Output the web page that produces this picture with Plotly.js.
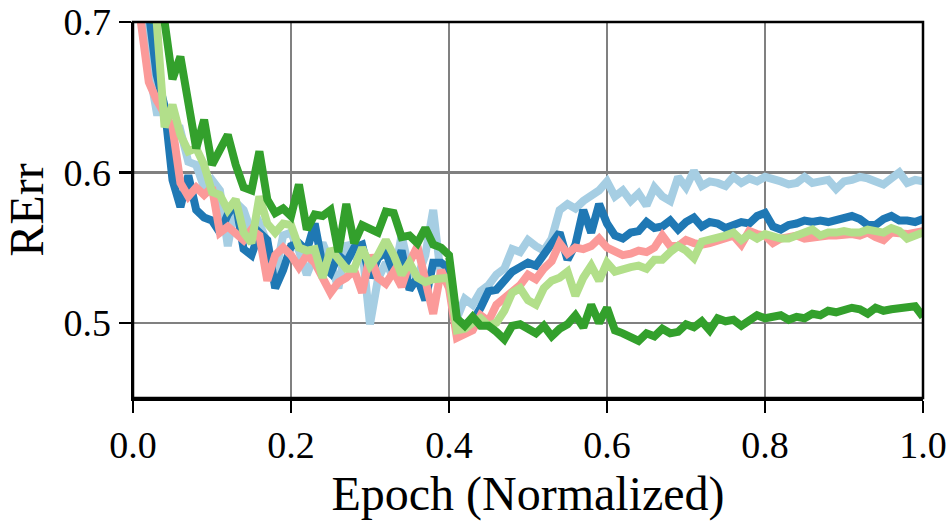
<!DOCTYPE html>
<html>
<head>
<meta charset="utf-8">
<script src="https://cdn.plot.ly/plotly-3.0.1.min.js"></script>
<style>
  html, body { margin: 0; padding: 0; background: #fff; }
  #chart { width: 950px; height: 523px; }
</style>
</head>
<body>
<div id="chart"></div>
<script>
// normalized epoch, one sample every 0.01
var epochs = [];
for (var i = 0; i <= 100; i++) { epochs.push(i / 100); }

// RErr per run
var lightBlue = [0.77, 0.72, 0.67, 0.64, 0.64, 0.625, 0.628, 0.607, 0.605, 0.59,
  0.595, 0.588, 0.551, 0.58, 0.575, 0.56, 0.566, 0.553, 0.532, 0.558,
  0.56, 0.548, 0.532, 0.545, 0.553, 0.54, 0.523, 0.553, 0.545, 0.55,
  0.499, 0.529, 0.54, 0.53, 0.558, 0.535, 0.53, 0.545, 0.575, 0.53,
  0.538, 0.503, 0.516, 0.512, 0.521, 0.525, 0.532, 0.536, 0.549, 0.547,
  0.555, 0.551, 0.548, 0.556, 0.575, 0.579, 0.576, 0.581, 0.584, 0.588,
  0.594, 0.584, 0.588, 0.581, 0.586, 0.578, 0.59, 0.584, 0.581, 0.597,
  0.59, 0.601, 0.591, 0.594, 0.593, 0.591, 0.597, 0.593, 0.596, 0.594,
  0.597, 0.596, 0.594, 0.592, 0.593, 0.597, 0.593, 0.594, 0.595, 0.589,
  0.594, 0.595, 0.597, 0.596, 0.594, 0.592, 0.596, 0.6, 0.593, 0.595,
  0.594];

var darkBlue = [0.79, 0.745, 0.705, 0.665, 0.644, 0.595, 0.577, 0.598, 0.575, 0.57,
  0.568, 0.56, 0.572, 0.58, 0.549, 0.545, 0.56, 0.555, 0.523, 0.535,
  0.551, 0.553, 0.548, 0.566, 0.538, 0.533, 0.545, 0.54, 0.55, 0.552,
  0.53, 0.543, 0.547, 0.533, 0.548, 0.522, 0.53, 0.515, 0.54, 0.54,
  0.536, 0.501, 0.499, 0.501, 0.51, 0.521, 0.522, 0.529, 0.534, 0.537,
  0.54, 0.538, 0.545, 0.553, 0.56, 0.542, 0.552, 0.575, 0.56, 0.579,
  0.566, 0.558, 0.556, 0.56, 0.561, 0.567, 0.563, 0.564, 0.568, 0.562,
  0.567, 0.57, 0.564, 0.567, 0.566, 0.563, 0.565, 0.567, 0.566, 0.571,
  0.573, 0.564, 0.562, 0.565, 0.566, 0.568, 0.567, 0.568, 0.567, 0.568,
  0.57, 0.571, 0.569, 0.565, 0.565, 0.569, 0.571, 0.568, 0.568, 0.567,
  0.569];

var pink = [0.74, 0.695, 0.66, 0.648, 0.64, 0.63, 0.593, 0.584, 0.59, 0.585,
  0.59, 0.56, 0.564, 0.56, 0.555, 0.562, 0.558, 0.528, 0.545, 0.55,
  0.545, 0.537, 0.545, 0.54, 0.53, 0.52, 0.527, 0.53, 0.535, 0.52,
  0.545, 0.53, 0.526, 0.534, 0.524, 0.54, 0.551, 0.528, 0.506, 0.535,
  0.523, 0.49, 0.492, 0.495, 0.505, 0.501, 0.512, 0.516, 0.52, 0.525,
  0.532, 0.529, 0.536, 0.541, 0.553, 0.546, 0.55, 0.549, 0.551, 0.556,
  0.55, 0.547, 0.545, 0.546, 0.548, 0.547, 0.55, 0.558, 0.551, 0.551,
  0.555, 0.553, 0.552, 0.553, 0.555, 0.556, 0.558, 0.552, 0.561, 0.559,
  0.558, 0.553, 0.556, 0.557, 0.558, 0.556, 0.557, 0.558, 0.558, 0.558,
  0.559, 0.559, 0.558, 0.56, 0.557, 0.555, 0.56, 0.559, 0.559, 0.56,
  0.561];

var lightGreen = [0.8, 0.77, 0.73, 0.7, 0.63, 0.645, 0.625, 0.614, 0.616, 0.605,
  0.587, 0.585, 0.575, 0.582, 0.56, 0.553, 0.584, 0.566, 0.56, 0.566,
  0.565, 0.55, 0.548, 0.549, 0.53, 0.549, 0.543, 0.536, 0.536, 0.55,
  0.538, 0.545, 0.555, 0.545, 0.532, 0.54, 0.53, 0.527, 0.529, 0.53,
  0.53, 0.495, 0.496, 0.5, 0.503, 0.498, 0.5, 0.508, 0.52, 0.523,
  0.515, 0.512, 0.523, 0.528, 0.53, 0.534, 0.518, 0.53, 0.538, 0.528,
  0.54, 0.534, 0.536, 0.537, 0.538, 0.536, 0.542, 0.542, 0.547, 0.551,
  0.548, 0.543, 0.554, 0.555, 0.556, 0.558, 0.56, 0.555, 0.559, 0.556,
  0.559, 0.557, 0.556, 0.556, 0.558, 0.561, 0.562, 0.558, 0.56, 0.56,
  0.561, 0.56, 0.56, 0.562, 0.561, 0.56, 0.563, 0.561, 0.556, 0.558,
  0.56];

var darkGreen = [0.8, 0.76, 0.70, 0.71, 0.70, 0.662, 0.677, 0.646, 0.616, 0.635,
  0.605, 0.615, 0.625, 0.605, 0.59, 0.588, 0.614, 0.582, 0.573, 0.576,
  0.571, 0.592, 0.562, 0.572, 0.571, 0.575, 0.547, 0.579, 0.553, 0.565,
  0.562, 0.56, 0.574, 0.573, 0.557, 0.558, 0.553, 0.563, 0.552, 0.55,
  0.545, 0.503, 0.498, 0.504, 0.498, 0.498, 0.494, 0.489, 0.498, 0.499,
  0.496, 0.493, 0.498, 0.491, 0.496, 0.499, 0.505, 0.497, 0.512, 0.5,
  0.51, 0.495, 0.493, 0.491, 0.488, 0.493, 0.491, 0.496, 0.493, 0.494,
  0.499, 0.497, 0.501, 0.495, 0.503, 0.501, 0.502, 0.498, 0.502, 0.505,
  0.503, 0.504, 0.505, 0.502, 0.504, 0.503, 0.506, 0.505, 0.508, 0.507,
  0.509, 0.51, 0.509, 0.506, 0.51, 0.508, 0.509, 0.51, 0.51, 0.511,
  0.504];

var xTicks = [0, 0.2, 0.4, 0.6, 0.8, 1.0];
var yTicks = [0.5, 0.6, 0.7];

var runs = [
  { y: lightBlue, color: '#a6cee3' },
  { y: darkBlue, color: '#1f78b4' },
  { y: pink, color: '#fb9a99' },
  { y: lightGreen, color: '#b2df8a' },
  { y: darkGreen, color: '#33a02c' }
];

var data = runs.map(function (r) {
  return {
    x: epochs,
    y: r.y,
    type: 'scatter',
    mode: 'lines',
    line: { color: r.color, width: 8 },
    hoverinfo: 'skip'
  };
});

var serif = '"Liberation Serif", "Times New Roman", serif';

function axis(range, ticks, title, standoff) {
  return {
    range: range,
    tickvals: ticks,
    tickformat: '.1f',
    ticks: 'outside',
    ticklen: 12,
    tickwidth: 2.5,
    tickcolor: '#000',
    ticklabeloverflow: 'allow',
    showline: true,
    linecolor: '#000',
    linewidth: 2.5,
    showgrid: true,
    gridcolor: '#808080',
    gridwidth: 2.5,
    zeroline: false,
    tickfont: { size: 38 },
    title: { text: title, font: { size: 48 }, standoff: standoff }
  };
}

var layout = {
  width: 950,
  height: 523,
  margin: { l: 133, r: 27, t: 22, b: 125 },
  showlegend: false,
  paper_bgcolor: '#fff',
  plot_bgcolor: '#fff',
  font: { family: serif, color: '#000', size: 38 },
  xaxis: axis([0, 1], xTicks, 'Epoch (Normalized)', 12),
  yaxis: axis([0.45, 0.700001], yTicks, 'RErr', 12),
  // frame round the plot area
  shapes: [{
    type: 'rect', xref: 'paper', yref: 'paper',
    x0: 0, x1: 1, y0: 0, y1: 1,
    line: { color: '#000', width: 2.5 },
    layer: 'above'
  }]
};

Plotly.newPlot('chart', data, layout, { staticPlot: true, displayModeBar: false });
</script>
</body>
</html>
